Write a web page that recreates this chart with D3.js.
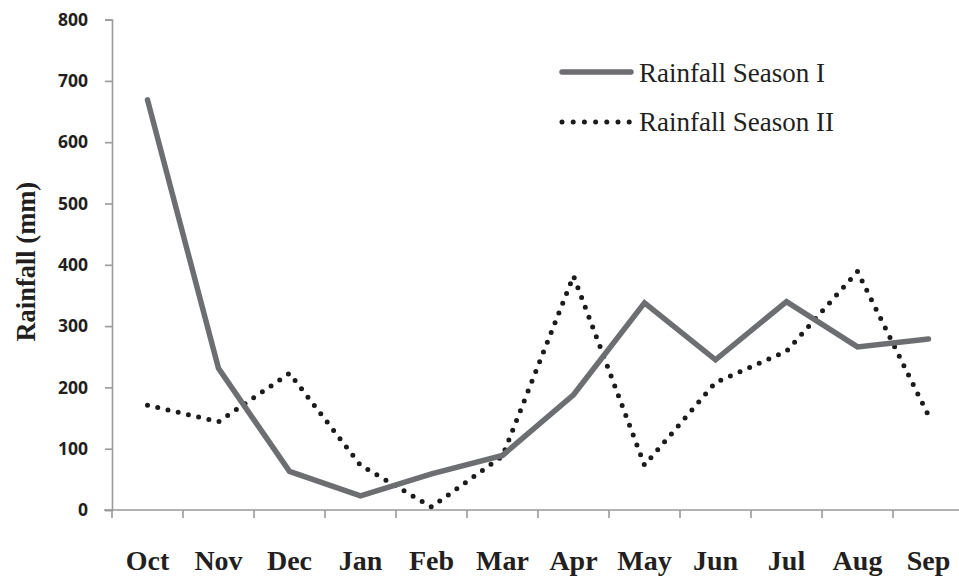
<!DOCTYPE html>
<html>
<head>
<meta charset="utf-8">
<script src="https://cdn.jsdelivr.net/npm/d3@7"></script>
<style>
  body { margin: 0; background: #fff; }
  svg { display: block; }
</style>
</head>
<body>
<div id="chart"></div>
<script>
const w = 959;
const h = 577;

const months = ["Oct", "Nov", "Dec", "Jan", "Feb", "Mar", "Apr", "May", "Jun", "Jul", "Aug", "Sep"];
const season1 = [669, 231, 63, 23, 59, 89, 188, 338, 245, 340, 266, 279];
const season2 = [171, 144, 223, 73, 5, 88, 382, 73, 208, 259, 389, 154];
const yTicks = [0, 100, 200, 300, 400, 500, 600, 700, 800];
const seriesNames = ["Rainfall Season I", "Rainfall Season II"];

const svg = d3.select("#chart")
    .append("svg")
    .attr("width", w)
    .attr("height", h);

const x = d3.scaleBand()
    .domain(months)
    .range([112, 964]);

const y = d3.scaleLinear()
    .domain([0, 800])
    .range([510, 19.6]);

const axisColor = "#9a9a9a";
const textColor = "#231f20";

// y axis
const yAxis = d3.axisLeft(y)
    .tickValues(yTicks)
    .tickSize(7)
    .tickSizeOuter(7)
    .tickPadding(17);

const gy = svg.append("g")
    .attr("transform", "translate(112,0)")
    .call(yAxis);

gy.selectAll("path, line")
    .attr("stroke", axisColor)
    .attr("stroke-width", 1.6);
gy.selectAll("text")
    .attr("fill", textColor)
    .style("font-family", "'Open Sans', sans-serif")
    .style("font-weight", 700)
    .style("font-size", "17.5px");

// x axis
const xAxis = d3.axisBottom(x)
    .tickSize(0)
    .tickPadding(40);

const gx = svg.append("g")
    .attr("transform", "translate(0,510)")
    .call(xAxis);

gx.select(".domain")
    .attr("d", "M" + (x.range()[0] - 8) + ",0H" + x.range()[1])
    .attr("stroke", axisColor)
    .attr("stroke-width", 1.6);

gx.selectAll("text")
    .attr("fill", textColor)
    .style("font-family", "'Liberation Serif', serif")
    .style("font-weight", 700)
    .style("font-size", "28px");

gx.selectAll(".bound")
    .data(months)
    .enter()
    .append("line")
    .attr("class", "bound")
    .attr("x1", d => x(d))
    .attr("x2", d => x(d))
    .attr("y1", 0)
    .attr("y2", 8)
    .attr("stroke", axisColor)
    .attr("stroke-width", 1.6);

// y title
svg.append("text")
    .attr("transform", "translate(35," + y(405) + ") rotate(-90)")
    .attr("text-anchor", "middle")
    .attr("fill", textColor)
    .style("font-family", "'Liberation Serif', serif")
    .style("font-weight", 700)
    .style("font-size", "26.5px")
    .text("Rainfall (mm)");

const line = d3.line()
    .x((d, i) => x(months[i]) + x.bandwidth() / 2)
    .y(d => y(d));

svg.append("path")
    .datum(season2)
    .attr("d", line)
    .attr("fill", "none")
    .attr("stroke", "#1c1a1b")
    .attr("stroke-width", 5)
    .attr("stroke-linecap", "round")
    .attr("stroke-dasharray", "0 10.5");

svg.append("path")
    .datum(season1)
    .attr("d", line)
    .attr("fill", "none")
    .attr("stroke", "#6d6e71")
    .attr("stroke-width", 5.5)
    .attr("stroke-linecap", "round")
    .attr("stroke-linejoin", "miter");

// legend
const legend = svg.append("g");

legend.append("line")
    .attr("x1", 562).attr("x2", 631)
    .attr("y1", 72).attr("y2", 72)
    .attr("stroke", "#6d6e71")
    .attr("stroke-width", 5.5)
    .attr("stroke-linecap", "round");

legend.append("line")
    .attr("x1", 562).attr("x2", 630)
    .attr("y1", 122).attr("y2", 122)
    .attr("stroke", "#1c1a1b")
    .attr("stroke-width", 5)
    .attr("stroke-linecap", "round")
    .attr("stroke-dasharray", "0 11.2");

legend.selectAll(".ltext")
    .data(seriesNames)
    .enter()
    .append("text")
    .attr("class", "ltext")
    .attr("x", 639)
    .attr("y", (d, i) => 82 + i * 49)
    .attr("fill", textColor)
    .style("font-family", "'Liberation Serif', serif")
    .style("font-size", "27px")
    .text(d => d);
</script>
</body>
</html>
